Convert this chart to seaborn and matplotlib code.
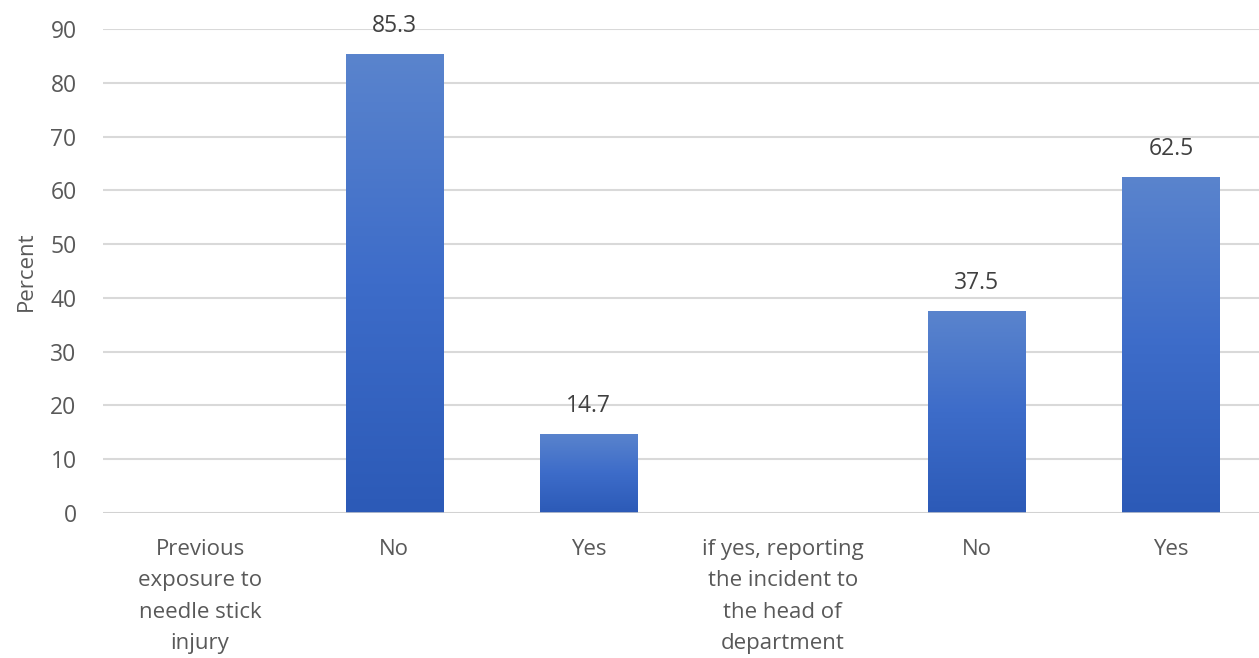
import numpy as np
import pandas as pd
import matplotlib
matplotlib.use("Agg")
import matplotlib.pyplot as plt
import seaborn as sns
from matplotlib.colors import LinearSegmentedColormap

categories = ["Previous\nexposure to\nneedle stick\ninjury", "No", "Yes",
              "if yes, reporting\nthe incident to\nthe head of\ndepartment", "No", "Yes"]
values = [np.nan, 85.3, 14.7, np.nan, 37.5, 62.5]
yticks = [0, 10, 20, 30, 40, 50, 60, 70, 80, 90]

sns.set_theme(style="white")
plt.rcParams['font.family'] = ['Open Sans', 'DejaVu Sans']

df = pd.DataFrame({"pos": list(range(len(categories))), "value": values})

fig = plt.figure(figsize=(12.59, 6.58), dpi=100)
ax = fig.add_axes([103 / 1259, 1 - 513 / 658, (1259 - 103) / 1259, (513 - 29) / 658])

sns.barplot(data=df, x="pos", y="value", ax=ax, color="#4472c4", width=0.5,
            errorbar=None, zorder=3)

cmap = LinearSegmentedColormap.from_list("g", ["#2c5ab7", "#3d6cc9", "#5a84cd"])
grad = np.linspace(0, 1, 256).reshape(-1, 1)
for p in ax.patches:
    h = p.get_height()
    if not np.isfinite(h) or h == 0:
        continue
    x0 = p.get_x()
    w = p.get_width()
    p.set_facecolor("#3b69c6")
    p.set_edgecolor("none")
    im = ax.imshow(grad, cmap=cmap, origin="lower", aspect="auto",
                   extent=[x0, x0 + w, 0, h], zorder=4)
    im.set_clip_path(p)

for i, v in enumerate(values):
    if np.isfinite(v):
        ax.text(i, v + 3.0, f"{v:.1f}", ha="center", va="bottom",
                fontsize=16.5, color="#404040")

ax.set_xlim(-0.5, 5.453)
ax.set_ylim(0, 90)
ax.set_yticks(yticks)
ax.set_yticklabels([str(t) for t in yticks], fontsize=16.5, color="#595959")
ax.set_xticks(range(len(categories)))
ax.set_xticklabels(categories, fontsize=16, color="#595959", linespacing=1.63, va="top")
ax.tick_params(axis="x", length=0, pad=19)
ax.tick_params(axis="y", length=0, pad=19)
ax.set_xlabel("")
ax.set_ylabel("Percent", fontsize=16, color="#595959", labelpad=10)
ax.yaxis.grid(True, color="#d9d9d9", linewidth=1.5, zorder=0)
ax.xaxis.grid(False)
for s in ax.spines.values():
    s.set_visible(False)
ax.axhline(0, color="#d0d0d0", linewidth=1.8, zorder=5)

fig.savefig("out.png", dpi=100, facecolor="white")
